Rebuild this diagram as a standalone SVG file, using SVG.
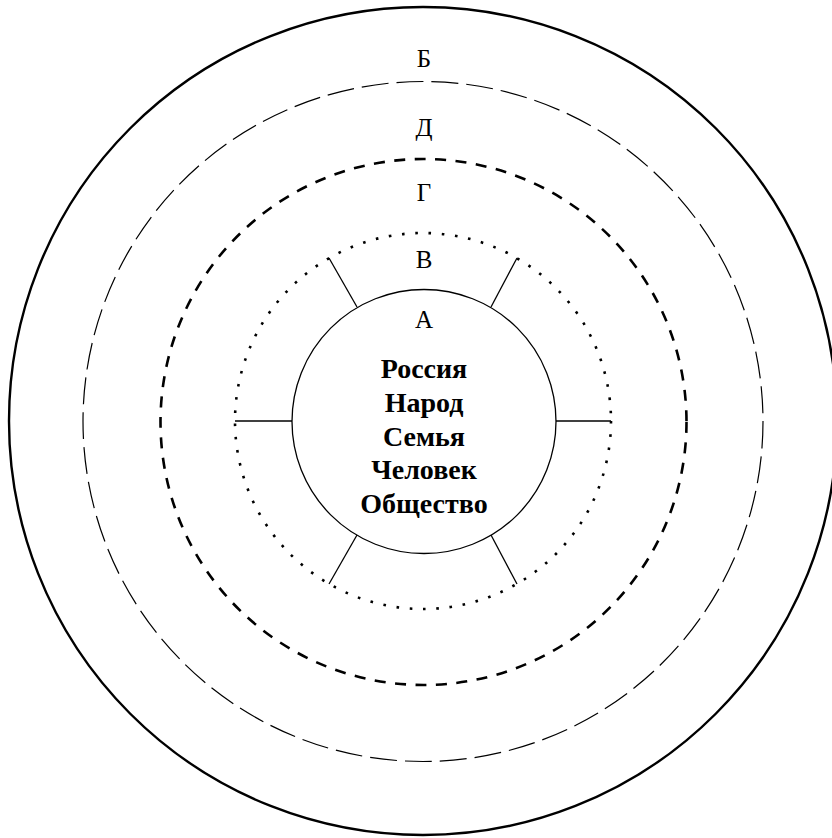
<svg xmlns="http://www.w3.org/2000/svg" width="832" height="838" viewBox="0 0 832 838">
<style>
.ring{fill:none;stroke:#000}
.lbl{font-family:"Liberation Serif","Times New Roman",serif;font-size:25px;text-anchor:middle;fill:#000}
.word{font-family:"Liberation Serif","Times New Roman",serif;font-size:28px;font-weight:bold;text-anchor:middle;fill:#000}
.spoke{stroke:#000;stroke-width:1.3}
</style>
<rect width="832" height="838" fill="#fff"/>
<g id="ring-outer"><circle class="ring" cx="423" cy="421" r="414" stroke-width="2.4"/></g>
<g id="ring-b"><circle class="ring" cx="423" cy="421.5" r="340" stroke-width="1.2" stroke-dasharray="27 8"/><text class="lbl" x="424" y="67">Б</text></g>
<g id="ring-d"><circle class="ring" cx="423.5" cy="422" r="263" stroke-width="2.6" stroke-dasharray="11 9.5"/><text class="lbl" x="424" y="136">Д</text></g>
<g id="ring-g"><text class="lbl" x="424" y="201">Г</text></g>
<g id="ring-v"><circle class="ring" cx="423" cy="421" r="188" stroke-width="2.6" stroke-dasharray="2.6 10.7"/><text class="lbl" x="424" y="268">В</text></g>
<g id="connectors">
<line class="spoke" x1="292" y1="421" x2="235" y2="421"/>
<line class="spoke" x1="556" y1="421" x2="611" y2="421"/>
<line class="spoke" x1="357" y1="307" x2="329" y2="258"/>
<line class="spoke" x1="491" y1="307" x2="517" y2="258"/>
<line class="spoke" x1="357" y1="535" x2="329" y2="584"/>
<line class="spoke" x1="491" y1="535" x2="517" y2="584"/>
</g>
<g id="core">
<circle class="ring" cx="424" cy="421.5" r="132" stroke-width="1.3"/>
<text class="lbl" x="424" y="328">А</text>
<text class="word" x="424" y="378">Россия</text>
<text class="word" x="424" y="412">Народ</text>
<text class="word" x="424" y="445.5">Семья</text>
<text class="word" x="424" y="479">Человек</text>
<text class="word" x="424" y="513">Общество</text>
</g>
</svg>
